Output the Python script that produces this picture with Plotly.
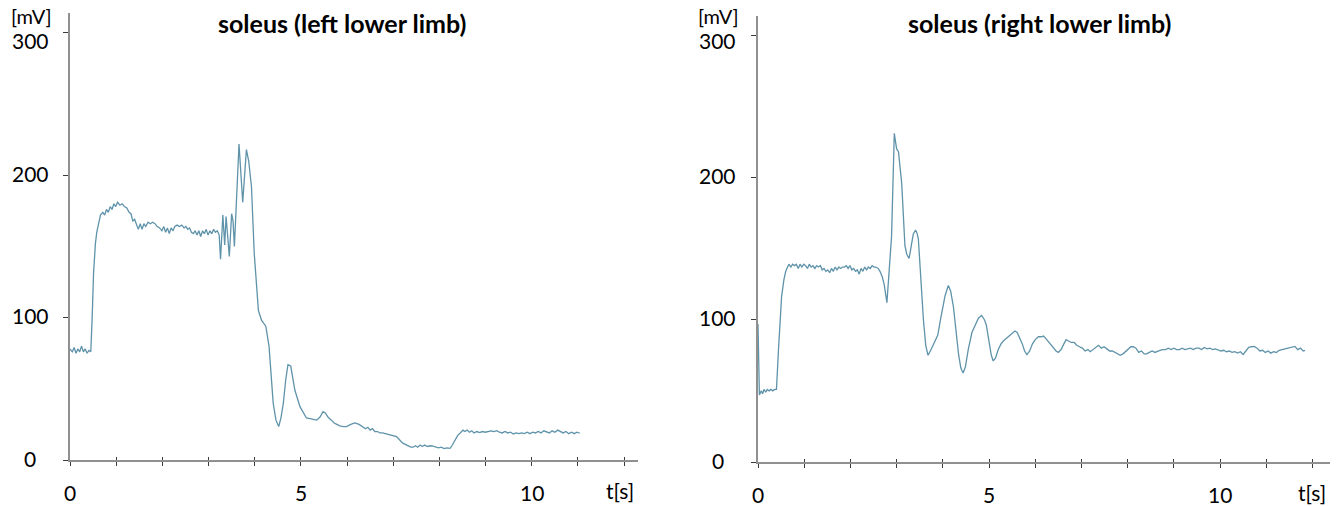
import plotly.graph_objects as go

# ---------------- data ----------------
left_t = [0.00, 0.05, 0.09, 0.13, 0.17, 0.21, 0.25, 0.29, 0.33, 0.37, 0.41, 0.45, 0.48, 0.51, 0.55, 0.58,
          0.62, 0.66, 0.71, 0.75, 0.79, 0.83, 0.87, 0.91, 0.95, 0.99, 1.03, 1.08, 1.13, 1.18, 1.23, 1.28,
          1.32, 1.36, 1.40, 1.44, 1.48, 1.52, 1.56, 1.60, 1.64, 1.69, 1.74, 1.79, 1.84, 1.89, 1.94, 1.99,
          2.03, 2.07, 2.11, 2.15, 2.19, 2.23, 2.27, 2.32, 2.37, 2.42, 2.47, 2.51, 2.55, 2.59, 2.63, 2.67,
          2.71, 2.75, 2.79, 2.83, 2.87, 2.91, 2.95, 2.99, 3.03, 3.07, 3.11, 3.15, 3.19, 3.23, 3.26, 3.31,
          3.35, 3.38, 3.45, 3.50, 3.53, 3.56, 3.61, 3.66, 3.74, 3.82, 3.87, 3.93, 3.99, 4.08, 4.15, 4.20,
          4.24, 4.31, 4.40, 4.46, 4.52, 4.57, 4.62, 4.67, 4.72, 4.78, 4.87, 4.98, 5.05, 5.12, 5.20, 5.27,
          5.34, 5.41, 5.48, 5.53, 5.59, 5.66, 5.72, 5.78, 5.84, 5.92, 5.99, 6.08, 6.17, 6.26, 6.35, 6.40,
          6.45, 6.50, 6.55, 6.60, 6.66, 6.71, 6.77, 6.83, 6.88, 6.93, 7.00, 7.07, 7.14, 7.20, 7.26, 7.32,
          7.38, 7.43, 7.48, 7.53, 7.58, 7.63, 7.68, 7.74, 7.80, 7.86, 7.92, 7.98, 8.04, 8.10, 8.16, 8.23,
          8.27, 8.30, 8.35, 8.40, 8.45, 8.51, 8.55, 8.60, 8.65, 8.70, 8.75, 8.81, 8.87, 8.93, 8.99, 9.06,
          9.12, 9.18, 9.24, 9.30, 9.36, 9.42, 9.48, 9.54, 9.60, 9.66, 9.72, 9.78, 9.84, 9.90, 9.96, 10.02,
          10.08, 10.14, 10.20, 10.26, 10.32, 10.38, 10.44, 10.50, 10.56, 10.62, 10.68, 10.74, 10.80, 10.86,
          10.92, 10.98, 11.04]
left_v = [78, 76, 79, 75, 78, 76, 80, 76, 78, 75, 77, 76, 100, 131, 152, 160,
          166, 172, 174, 172, 176, 174, 178, 176, 180, 178, 181, 179, 180, 178, 177, 174,
          173, 168, 169, 165, 162, 166, 162, 166, 164, 167, 166, 167, 166, 164, 163, 161,
          164, 160, 163, 159, 163, 161, 164, 165, 164, 165, 163, 164, 162, 163, 160, 159,
          161, 158, 161, 157, 161, 159, 162, 158, 161, 159, 162, 160, 161, 158, 141, 172,
          151, 171, 143, 173, 168, 150, 185, 222, 181, 218, 210, 192, 145, 105, 98, 96,
          94, 80, 40, 28, 23.5, 30, 40, 56, 67, 66, 49, 37.5, 33, 29.5, 29, 28.5,
          28, 30, 34, 33, 30, 28, 26, 25, 24, 23.5, 23.5, 25, 26, 25, 23, 22,
          23, 21, 22, 20, 20, 19, 19, 18.5, 18, 18, 17, 16.4, 14, 12, 11, 9.8,
          9, 9, 10, 9, 10.5, 9.5, 10.5, 9.5, 10, 9.8, 9, 8.5, 9, 8, 8.5, 8.2,
          10, 11.7, 15, 17.5, 19, 21, 20, 21, 19.5, 20.5, 19, 20, 19.2, 20, 19.5, 20,
          20.5, 20, 20.6, 19.5, 19, 20, 19, 19.5, 18.3, 19, 18.5, 19, 18.5, 19.5, 18.5, 19.5,
          19, 20, 19, 20.5, 20, 19, 20.5, 19.5, 21, 20, 19, 20, 18.5, 19.5,
          18.5, 19.5, 18.8]

right_t = [0.00, 0.03, 0.07, 0.10, 0.13, 0.17, 0.20, 0.24, 0.28, 0.32, 0.36, 0.40, 0.44, 0.51, 0.56, 0.60,
           0.64, 0.67, 0.71, 0.75, 0.79, 0.83, 0.87, 0.91, 0.95, 0.99, 1.03, 1.07, 1.11, 1.15, 1.19, 1.23,
           1.27, 1.31, 1.35, 1.39, 1.43, 1.47, 1.51, 1.55, 1.59, 1.63, 1.67, 1.71, 1.75, 1.79, 1.83, 1.87,
           1.91, 1.95, 1.99, 2.03, 2.07, 2.11, 2.15, 2.19, 2.23, 2.27, 2.31, 2.35, 2.39, 2.43, 2.47, 2.51,
           2.55, 2.60, 2.64, 2.69, 2.73, 2.79, 2.84, 2.89, 2.95, 2.98, 3.00, 3.04, 3.11, 3.18, 3.22, 3.27,
           3.32, 3.36, 3.41, 3.44, 3.47, 3.52, 3.58, 3.63, 3.68, 3.73, 3.79, 3.85, 3.89, 3.95, 4.00, 4.05,
           4.12, 4.17, 4.23, 4.28, 4.34, 4.39, 4.44, 4.49, 4.55, 4.63, 4.70, 4.77, 4.84, 4.90, 4.94, 5.00,
           5.05, 5.09, 5.14, 5.20, 5.26, 5.31, 5.38, 5.45, 5.51, 5.56, 5.61, 5.67, 5.72, 5.77, 5.82, 5.88,
           5.94, 6.00, 6.07, 6.13, 6.18, 6.25, 6.32, 6.39, 6.45, 6.50, 6.56, 6.62, 6.67, 6.72, 6.78, 6.84,
           6.90, 6.96, 7.02, 7.08, 7.14, 7.19, 7.25, 7.31, 7.37, 7.43, 7.49, 7.55, 7.61, 7.67, 7.73, 7.79,
           7.84, 7.90, 7.96, 8.02, 8.07, 8.12, 8.18, 8.24, 8.30, 8.36, 8.41, 8.47, 8.53, 8.59, 8.65, 8.70,
           8.76, 8.82, 8.88, 8.94, 9.00, 9.06, 9.12, 9.18, 9.24, 9.30, 9.36, 9.42, 9.48, 9.54, 9.60, 9.66,
           9.72, 9.78, 9.84, 9.90, 9.96, 10.02, 10.08, 10.14, 10.20, 10.26, 10.32, 10.38, 10.44, 10.50,
           10.56, 10.62, 10.68, 10.74, 10.80, 10.86, 10.92, 10.98, 11.04, 11.10, 11.16, 11.22, 11.28,
           11.34, 11.40, 11.46, 11.52, 11.58, 11.62, 11.68, 11.74, 11.80, 11.84]
right_v = [97, 47, 50, 48, 51, 49, 51, 50, 51, 50, 51, 51, 77, 116, 128, 134,
           137, 139, 137, 139, 138, 139, 136, 139, 137, 139, 138, 136, 139, 137, 138, 136,
           138, 137, 138, 135, 136, 134, 135, 133, 136, 134, 137, 135, 137, 136, 137, 137,
           138, 136, 138, 135, 136, 134, 135, 132, 136, 134, 137, 135, 137, 136, 138, 137,
           137, 136, 134, 130, 125, 112, 135, 158, 231, 222, 220, 218, 196, 152, 146, 143,
           152, 160, 163, 161, 157, 128, 100, 82, 75, 78, 82, 86, 89, 100, 110, 117,
           124, 120, 109, 92, 76, 66, 62.5, 67, 79, 91, 96, 101, 103, 100, 96.5, 84,
           75, 71, 73, 79, 83, 85, 87, 89, 91, 92, 91, 87, 83, 78, 75.5, 78,
           83, 86, 88, 88, 88.5, 86, 83, 80, 78, 77, 79, 83, 86, 85, 84, 84,
           82, 81, 80, 78, 79, 77.5, 79, 80, 82, 80, 81, 79.5, 78, 78, 77, 76,
           75, 76, 78, 80, 81, 81, 80, 77, 78, 76, 76, 77, 78, 77, 78, 78.5,
           79, 79, 80, 79, 80, 79, 79, 80, 79, 79.5, 80, 79, 80, 80, 79, 80.5,
           79.5, 80, 79, 79.5, 78.5, 78, 78.5, 77.5, 78, 77, 77.5, 76.5, 77.5, 75.5,
           78, 80.5, 81, 81.2, 80, 78, 78.5, 77, 78, 76.5, 77.5, 77, 78.5,
           79, 79.5, 79.5, 80, 81, 81.2, 79, 80, 78, 78.5]

y_ticks = [0, 100, 200, 300]
x_ticks = list(range(13))
x_labels = [0, 5, 10]
titles = ["soleus (left lower limb)", "soleus (right lower limb)"]
y_unit = "[mV]"
x_unit = "t[s]"

# ---------------- styling ----------------
W, H = 1336, 506
LINE = "#5f93aa"
AXIS = "#909090"
TICK = "#3a3a3a"
FONT = "Lato"
FS = 21
UNIT_FS = 20
TITLE_FS = 25

# pixel geometry of the two panels
panels = [
    dict(x0=70, x1=638, yb=460, yt=13, tmax=12.3, vmax=314, top_shift=-8, unit_shift=-3, tx=5.9),
    dict(x0=758, x1=1330, yb=462, yt=16, tmax=12.38, vmax=313.4, top_shift=-5, unit_shift=0, tx=6.1),
]

fig = go.Figure()
fig.add_trace(go.Scatter(x=left_t, y=left_v, xaxis="x", yaxis="y", mode="lines",
                         line=dict(color=LINE, width=1.3), hoverinfo="skip"))
fig.add_trace(go.Scatter(x=right_t, y=right_v, xaxis="x2", yaxis="y2", mode="lines",
                         line=dict(color=LINE, width=1.3), hoverinfo="skip"))
# empty traces so the overlay tick axes are drawn
fig.add_trace(go.Scatter(x=[], y=[], xaxis="x3", yaxis="y", hoverinfo="skip"))
fig.add_trace(go.Scatter(x=[], y=[], xaxis="x4", yaxis="y2", hoverinfo="skip"))

layout = dict(width=W, height=H, margin=dict(l=0, r=0, t=0, b=0),
              paper_bgcolor="white", plot_bgcolor="white", showlegend=False,
              font=dict(family=FONT, size=FS, color="#000000"))

ann = []
for i, p in enumerate(panels):
    xs = "" if i == 0 else "2"
    ys = "" if i == 0 else "2"
    xo = "3" if i == 0 else "4"
    xdom = [p["x0"] / W, p["x1"] / W]
    ydom = [1 - p["yb"] / H, 1 - p["yt"] / H]
    layout["xaxis" + xs] = dict(domain=xdom, range=[0, p["tmax"]], anchor="y" + ys,
                                showline=True, linecolor=AXIS, linewidth=2,
                                ticks="outside", ticklen=4, tickwidth=1, tickcolor=TICK,
                                tickvals=x_ticks, showticklabels=False,
                                showgrid=False, zeroline=False, fixedrange=True)
    layout["xaxis" + xo] = dict(overlaying="x" + xs, range=[0, p["tmax"]], anchor="y" + ys,
                                showline=False, ticks="inside", ticklen=3, tickwidth=1,
                                tickcolor=TICK, tickvals=x_ticks, showticklabels=False,
                                showgrid=False, zeroline=False, fixedrange=True)
    layout["yaxis" + ys] = dict(domain=ydom, range=[0, p["vmax"]], anchor="x" + xs,
                                showline=True, linecolor=AXIS, linewidth=2,
                                ticks="outside", ticklen=5, tickwidth=1, tickcolor=TICK,
                                tickvals=y_ticks, showticklabels=False,
                                showgrid=False, zeroline=False, fixedrange=True)
    xr, yr = "x" + xs, "y" + ys
    for v in y_ticks:
        ann.append(dict(xref=xr, yref=yr, x=0, y=v, text=str(v), showarrow=False,
                        xanchor="center", yanchor="middle", xshift=-40, borderpad=0,
                        yshift=p["top_shift"] if v == y_ticks[-1] else 2,
                        font=dict(family=FONT, size=FS, color="#000")))
    for v in x_labels:
        ann.append(dict(xref=xr, yref=yr, x=v, y=0, text=str(v), showarrow=False,
                        xanchor="center", yanchor="middle", yshift=-32,
                        font=dict(family=FONT, size=FS, color="#000")))
    ann.append(dict(xref=xr, yref=yr, x=0, y=p["vmax"], text=y_unit, showarrow=False,
                    xanchor="center", yanchor="middle", xshift=-39, borderpad=0,
                    yshift=p["unit_shift"],
                    font=dict(family=FONT, size=UNIT_FS, color="#000")))
    ann.append(dict(xref=xr, yref=yr, x=p["tmax"], y=0, text=x_unit, showarrow=False,
                    xanchor="center", yanchor="middle", xshift=-18, yshift=-30,
                    font=dict(family=FONT, size=FS, color="#000")))
    ann.append(dict(xref=xr, yref="paper", x=p["tx"], y=1 - 23 / H,
                    text="<b>" + titles[i] + "</b>", showarrow=False,
                    xanchor="center", yanchor="middle",
                    font=dict(family=FONT, size=TITLE_FS, color="#000")))

layout["annotations"] = ann
fig.update_layout(**layout)
fig.write_html("out.html")
